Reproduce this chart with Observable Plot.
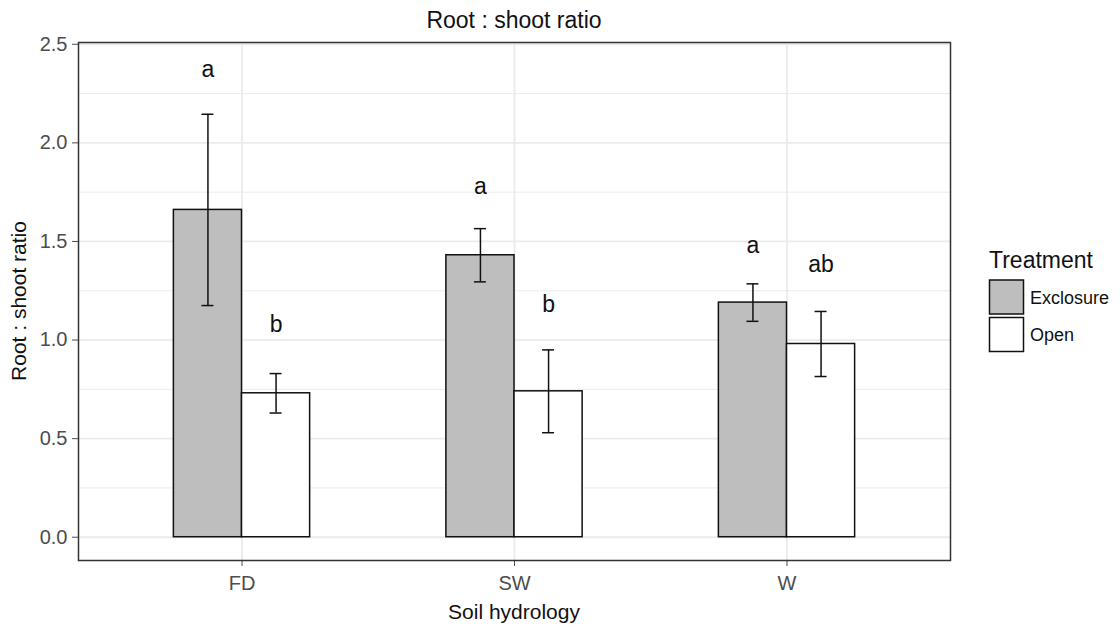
<!DOCTYPE html>
<html>
<head>
<meta charset="utf-8">
<script src="https://cdn.jsdelivr.net/npm/d3@7"></script>
<script src="https://cdn.jsdelivr.net/npm/@observablehq/plot@0.6"></script>
<style>
  html, body { margin: 0; padding: 0; background: #ffffff; }
  #chart { width: 1120px; height: 628px; }
</style>
</head>
<body>
<div id="chart"></div>
<script>
// Root : shoot ratio by soil hydrology and grazing treatment (mean ± SE)
const sites = ["FD", "SW", "W"];
const treatments = ["Exclosure", "Open"];
const meanExclosure = [1.66, 1.43, 1.19];
const meanOpen = [0.73, 0.74, 0.98];
const seExclosure = [0.485, 0.135, 0.095];
const seOpen = [0.10, 0.21, 0.165];
// significance letters and the height at which each is printed
const letterExclosure = ["a", "a", "a"];
const letterOpen = ["b", "b", "ab"];
const letterYExclosure = [2.37, 1.78, 1.48];
const letterYOpen = [1.08, 1.18, 1.38];
const yTicks = [0, 0.5, 1, 1.5, 2, 2.5];
const yMinor = [0.25, 0.75, 1.25, 1.75, 2.25];

const rows = [];
sites.forEach((s, i) => {
  rows.push({site: s, idx: i + 1, treatment: "Exclosure", mean: meanExclosure[i], se: seExclosure[i], letter: letterExclosure[i], ly: letterYExclosure[i]});
  rows.push({site: s, idx: i + 1, treatment: "Open", mean: meanOpen[i], se: seOpen[i], letter: letterOpen[i], ly: letterYOpen[i]});
});

const barW = 0.25;
const dodge = {Exclosure: -0.125, Open: 0.125};
const cx = d => d.idx + dodge[d.treatment];
const cap = 0.022;
const fills = ["#BEBEBE", "#FFFFFF"];
const font = "'Liberation Sans', Arial, sans-serif";

const chart = Plot.plot({
  width: 1120,
  height: 628,
  marginLeft: 78,
  marginRight: 170,
  marginTop: 42,
  marginBottom: 68,
  style: {fontFamily: font, fontSize: "20px", color: "#4D4D4D", background: "transparent", overflow: "visible"},
  x: {type: "linear", domain: [0.4, 3.6], ticks: [1, 2, 3], tickFormat: d => sites[d - 1], tickSize: 6, tickPadding: 9, label: null},
  y: {domain: [-0.118, 2.509], ticks: yTicks, tickFormat: d3.format(".1f"), tickSize: 6, tickPadding: 5, label: null},
  color: {domain: treatments, range: fills},
  marks: [
    Plot.ruleY(yMinor, {stroke: "#EBEBEB", strokeWidth: 1}),
    Plot.ruleY(yTicks, {stroke: "#EBEBEB", strokeWidth: 1.8}),
    Plot.ruleX([1, 2, 3], {stroke: "#EBEBEB", strokeWidth: 1.8}),
    Plot.rect(rows, {
      x1: d => cx(d) - barW / 2,
      x2: d => cx(d) + barW / 2,
      y1: d => 0,
      y2: "mean",
      fill: "treatment",
      stroke: "#111111",
      strokeWidth: 1.5
    }),
    Plot.ruleX(rows, {x: cx, y1: d => d.mean - d.se, y2: d => d.mean + d.se, stroke: "#111111", strokeWidth: 1.5}),
    Plot.ruleY(rows, {y: d => d.mean + d.se, x1: d => cx(d) - cap, x2: d => cx(d) + cap, stroke: "#111111", strokeWidth: 1.5}),
    Plot.ruleY(rows, {y: d => d.mean - d.se, x1: d => cx(d) - cap, x2: d => cx(d) + cap, stroke: "#111111", strokeWidth: 1.5}),
    Plot.text(rows, {x: cx, y: "ly", text: "letter", fontSize: 23, fill: "#111111"}),
    Plot.frame({stroke: "#333333", strokeWidth: 1.5})
  ]
});

document.getElementById("chart").appendChild(chart);

// titles and legend
const svg = d3.select(chart);
const addText = (x, y, txt, size, opts = {}) => {
  const t = svg.append("text")
    .attr("x", x).attr("y", y)
    .attr("font-family", font)
    .attr("font-size", size)
    .attr("fill", opts.fill || "#111111")
    .attr("text-anchor", opts.anchor || "middle")
    .text(txt);
  if (opts.rotate) t.attr("transform", `rotate(-90 ${x} ${y})`);
  return t;
};

addText(514, 28, "Root : shoot ratio", 23);
addText(514, 619, "Soil hydrology", 21);
addText(26, 301, "Root : shoot ratio", 21, {rotate: true});

addText(989, 268, "Treatment", 23, {anchor: "start"});
treatments.forEach((t, i) => {
  const y0 = 280 + i * 37.5;
  svg.append("rect")
    .attr("x", 989.5).attr("y", y0)
    .attr("width", 34).attr("height", 34)
    .attr("fill", fills[i])
    .attr("stroke", "#111111")
    .attr("stroke-width", 1.5);
  addText(1030, y0 + 17 + 6.5, t, 18, {anchor: "start"});
});
</script>
</body>
</html>
